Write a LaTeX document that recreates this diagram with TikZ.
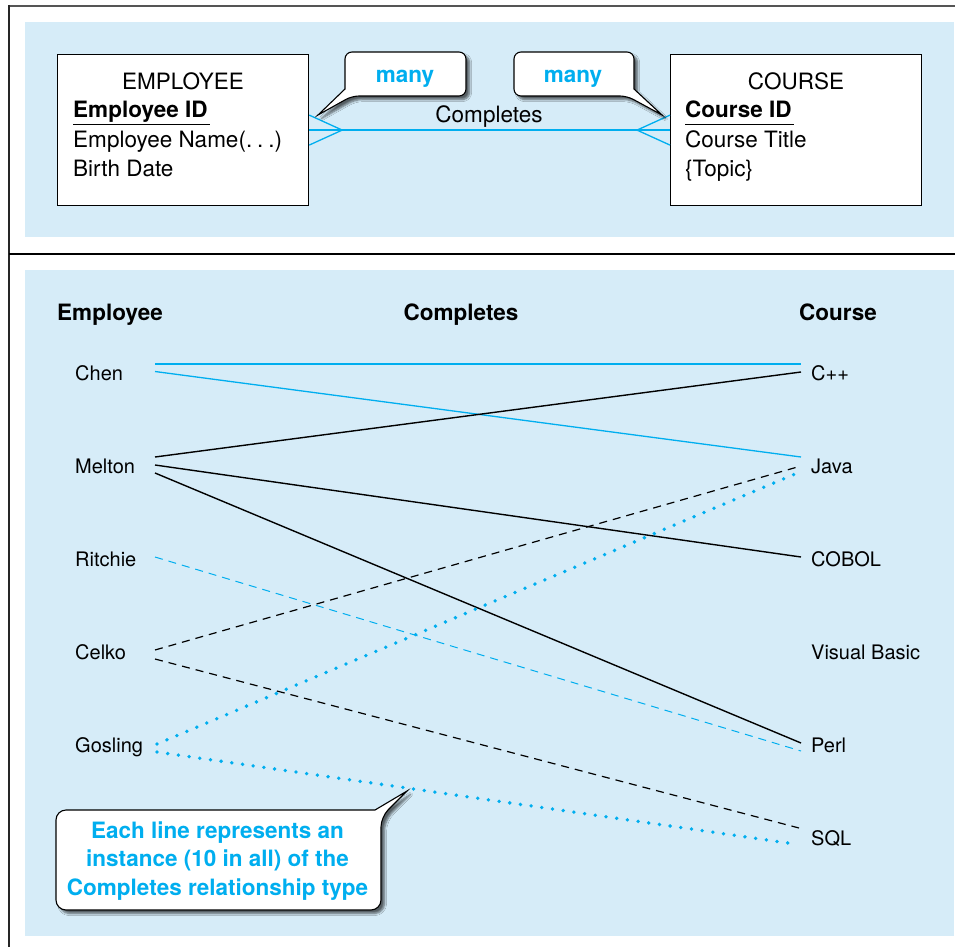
\documentclass[tikz,border=0pt]{standalone}
\usepackage{fontspec}
\setmainfont{TeX Gyre Heros}
\usetikzlibrary{calc,shadows.blur}
\definecolor{cy}{RGB}{0,174,239}
\definecolor{bg}{RGB}{214,236,248}
\definecolor{framegray}{RGB}{85,85,85}
\begin{document}
\begin{tikzpicture}[x=1pt,y=-1pt,
  big/.style={font=\fontsize{22.5}{27}\selectfont, inner sep=0pt, text height=16.2pt, text depth=0pt},
  bigb/.style={font=\fontsize{22.5}{27}\selectfont\bfseries, inner sep=0pt, text height=16.2pt, text depth=0pt},
  small/.style={font=\fontsize{20}{24}\selectfont, inner sep=0pt, text height=14.4pt, text depth=0pt, anchor=west},
  erbox/.style={draw=black, fill=white, line width=1.2pt, inner sep=0pt, anchor=north west, minimum width=251pt, minimum height=151pt},
  callout/.style={draw=black, fill=white, line width=1.1pt, blur shadow={shadow xshift=3.5pt, shadow yshift=-3.5pt, shadow blur steps=6, shadow opacity=60}},
  cyl/.style={draw=cy, line width=1.3pt},
  bkl/.style={draw=black, line width=1.4pt},
  dsh/.style={dash pattern=on 8pt off 6pt},
  dotl/.style={draw=cy, line width=3.8pt, line cap=round, dash pattern=on 0pt off 10.8pt}
]
\useasboundingbox (0,0) rectangle (955,947);
% backgrounds
\fill[bg] (25,22) rectangle (954,237);
\fill[bg] (25,270) rectangle (954,936);
% frame
\draw[framegray, line width=2pt] (8,6) -- (955,6);
\draw[black!85, line width=1.5pt] (9,5) -- (9,947);
\draw[black, line width=2pt] (9,254) -- (955,254);

% ---------- top ER diagram ----------
\node[erbox] (emp) at (57,54) {};
\node[erbox] (crs) at (670,54) {};
\node[big] (empt) at (183,81) {EMPLOYEE};
\node[bigb, anchor=west] (eid) at (73,109.5) {Employee ID};
\node[big, anchor=west] (ename) at (73,139) {Employee Name(.\hspace{5pt}.\hspace{5pt}.)};
\node[big, anchor=west] (ebd) at (73,168) {Birth Date};
\node[big] (crst) at (796,81) {COURSE};
\node[bigb, anchor=west] (cid) at (685,109.5) {Course ID};
\node[big, anchor=west] (ctitle) at (685,139) {Course Title};
\node[big, anchor=west] (ctopic) at (685,168) {\{Topic\}};
\draw[black, line width=1.2pt] ($(eid.south west)+(0,6.5)$) -- ($(eid.south east)+(2,6.5)$);
\draw[black, line width=1.2pt] ($(cid.south west)+(0,6.5)$) -- ($(cid.south east)+(2,6.5)$);

\draw[cyl] (emp.east) -- (crs.west);
\draw[cyl] ($(emp.east)+(0,-15)$) -- ($(emp.east)+(33,0)$) -- ($(emp.east)+(0,15)$);
\draw[cyl] ($(crs.west)+(0,-15)$) -- ($(crs.west)+(-33,0)$) -- ($(crs.west)+(0,15)$);
\node[big] (rel) at (489,114) {Completes};

% callouts "many"
\draw[callout, rounded corners=7pt] (405,52) -- (466,52) -- (466,96) -- (352,96) [sharp corners] -- (318,115) -- (345,89) [rounded corners=7pt] -- (345,52) -- cycle;
\node[bigb, text=cy] (manyL) at (405,74) {many};
\draw[callout, rounded corners=7pt] (573,52) -- (514,52) -- (514,96) -- (627,96) [sharp corners] -- (662,115) -- (634,89) [rounded corners=7pt] -- (634,52) -- cycle;
\node[bigb, text=cy] (manyR) at (573,74) {many};

% ---------- bottom instance diagram ----------
\node[bigb, anchor=west] (hemp) at (57,312) {Employee};
\node[bigb] (hrel) at (461,312) {Completes};
\node[bigb] (hcrs) at (838,312) {Course};

\node[small] (chen) at (75,373) {Chen};
\node[small] (melton) at (75,466) {Melton};
\node[small] (ritchie) at (75,559) {Ritchie};
\node[small] (celko) at (75,652) {Celko};
\node[small] (gosling) at (75,745) {Gosling};

\node[small] (cpp) at (811,373) {C++};
\node[small] (java) at (811,466) {Java};
\node[small] (cobol) at (811,559) {COBOL};
\node[small] (vb) at (811,652) {Visual Basic};
\node[small] (perl) at (811,745) {Perl};
\node[small] (sql) at (811,838) {SQL};

\draw[cyl] ($(chen.west)+(80,-9)$) -- ($(cpp.west)+(-10,-9)$);
\draw[cyl] ($(chen.west)+(80,-1.5)$) -- ($(java.west)+(-10,-9)$);
\draw[bkl] ($(melton.west)+(80,-9)$) -- ($(cpp.west)+(-10,-1)$);
\draw[bkl] ($(melton.west)+(80,-1)$) -- ($(cobol.west)+(-10,-2)$);
\draw[bkl] ($(melton.west)+(80,7)$) -- ($(perl.west)+(-10,-2)$);
\draw[cyl, line width=1pt, dsh] ($(ritchie.west)+(80,-2)$) -- ($(perl.west)+(-10,6)$);
\draw[bkl, line width=1.2pt, dsh] ($(celko.west)+(80,-2)$) -- ($(java.west)+(-10,0)$);
\draw[bkl, line width=1.2pt, dsh] ($(celko.west)+(80,7)$) -- ($(sql.west)+(-12,-10)$);
\draw[dotl] ($(gosling.west)+(82,-1)$) -- ($(java.west)+(-16,8)$);
\draw[dotl] ($(gosling.west)+(82,7)$) -- ($(sql.west)+(-16,6)$);

% bottom callout
\draw[callout, rounded corners=10pt] (200,810) -- (56,810) -- (56,910) -- (381,910) -- (381,817) [sharp corners] -- (407,791) -- (375,810) [rounded corners=10pt] -- cycle;
\node[font=\fontsize{22.5}{28.5}\selectfont\bfseries, text=cy, align=center, inner sep=0pt] (note) at (217.5,861) {Each line represents an\\instance (10 in all) of the\\Completes relationship type};
\end{tikzpicture}
\end{document}
